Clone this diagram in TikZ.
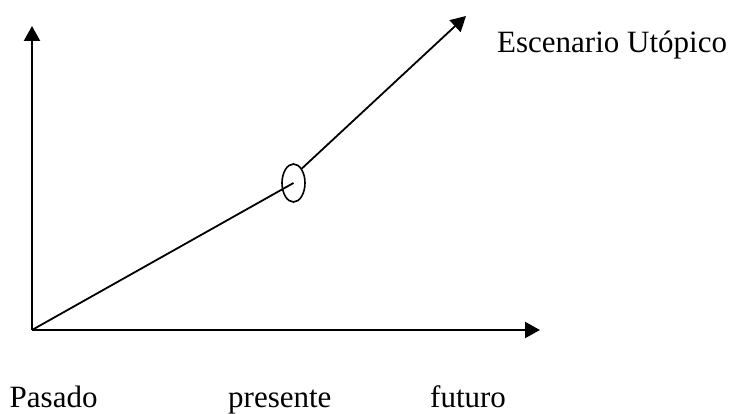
\documentclass[tikz,border=0pt]{standalone}
\usepackage{fontspec}
\setmainfont{Liberation Serif}
\usetikzlibrary{arrows.meta,shapes.geometric}
\begin{document}
\begin{tikzpicture}[x=1pt,y=-1pt,
  axisline/.style={line width=2.2pt,-{Triangle[length=15pt,width=16pt]}},
  trendline/.style={line width=1.8pt},
  lbl/.style={inner sep=0pt,anchor=base west,font=\fontsize{31}{36}\selectfont}]
\useasboundingbox (0,0) rectangle (737,414);
\coordinate (o) at (32,330);
\coordinate (ytip) at (32,26);
\coordinate (xtip) at (540,330);
\coordinate (dtip) at (466,16);
\node[ellipse,draw,line width=1.6pt,minimum width=23pt,minimum height=38pt,inner sep=0pt] (e) at (293.5,183) {};
\draw[axisline] (o) -- (ytip);
\draw[axisline] (o) -- (xtip);
\draw[trendline] (o) -- (e.center);
\draw[trendline,-{Triangle[length=15pt,width=16pt]}] (e.60) -- (dtip);
\node[lbl] (esc) at (497,53) {Escenario Utópico};
\node[lbl] (pas) at (9.5,407.5) {Pasado};
\node[lbl] (pre) at (228,407.5) {presente};
\node[lbl] (fut) at (430,407.5) {futuro};
\end{tikzpicture}
\end{document}
